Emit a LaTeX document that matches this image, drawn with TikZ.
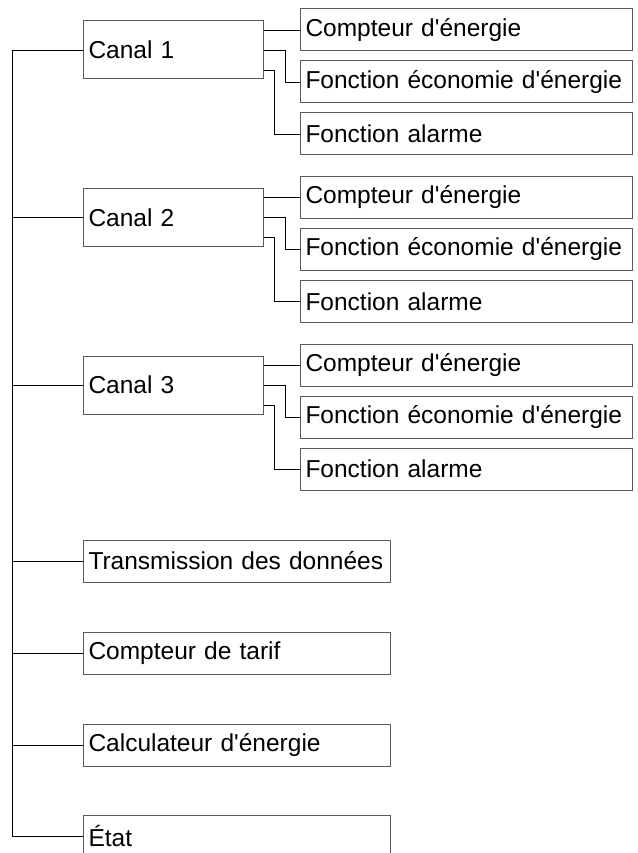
\documentclass[tikz,border=0pt]{standalone}
\usepackage{fontspec}
\setmainfont{Liberation Sans}[Ligatures=TeXOff]
\usepackage{tikz}
\usetikzlibrary{positioning}
\definecolor{boxline}{RGB}{90,90,90}

\begin{document}
\begin{tikzpicture}[x=1pt, y=-1pt]
    % Define styles
    \tikzset{
        every node/.style={font=\fontsize{24.5}{28}\selectfont},
        canal/.style={rectangle, draw=boxline, line width=1pt, anchor=west, minimum height=58pt, text width=170pt, inner xsep=5pt, align=left},
        func/.style={rectangle, draw=boxline, line width=1pt, minimum height=42pt, text width=322pt, inner xsep=5pt, align=left},
        item/.style={rectangle, draw=boxline, line width=1pt, anchor=west, minimum height=42pt, text width=297pt, inner xsep=5pt, align=left},
        link/.style={line width=0.9pt, black}
    }
    \useasboundingbox (0,0) rectangle (637,853);

    % Nodes for the channels
    \node (c1) [canal] at (83,50) {Canal 1};
    \node (c2) [canal] at (83,217.5) {Canal 2};
    \node (c3) [canal] at (83,385) {Canal 3};

    % Functions of each channel
    \node (c1a) [func, right=36pt of c1.east, anchor=west, yshift=20pt] {Compteur d'énergie};
    \node (c1b) [func, right=36pt of c1.east, anchor=west, yshift=-32pt] {Fonction économie d'énergie};
    \node (c1c) [func, right=36pt of c1.east, anchor=west, yshift=-84pt] {Fonction alarme};
    \node (c2a) [func, right=36pt of c2.east, anchor=west, yshift=20pt] {Compteur d'énergie};
    \node (c2b) [func, right=36pt of c2.east, anchor=west, yshift=-32pt] {Fonction économie d'énergie};
    \node (c2c) [func, right=36pt of c2.east, anchor=west, yshift=-84pt] {Fonction alarme};
    \node (c3a) [func, right=36pt of c3.east, anchor=west, yshift=20pt] {Compteur d'énergie};
    \node (c3b) [func, right=36pt of c3.east, anchor=west, yshift=-32pt] {Fonction économie d'énergie};
    \node (c3c) [func, right=36pt of c3.east, anchor=west, yshift=-84pt] {Fonction alarme};

    % Other entries
    \node (trans) [item] at (83,561) {Transmission des données};
    \node (tarif) [item] at (83,653) {Compteur de tarif};
    \node (calc) [item] at (83,745) {Calculateur d'énergie};
    \node (etat) [item] at (83,836) {État};

    % Main trunk on the left
    \coordinate (trunk) at (12,0);
    \draw [link] (c1.west) -| (trunk |- etat.west) -- (etat.west);
    \draw [link] (c2.west) -- (c2.west -| trunk);
    \draw [link] (c3.west) -- (c3.west -| trunk);
    \draw [link] (trans.west) -- (trans.west -| trunk);
    \draw [link] (tarif.west) -- (tarif.west -| trunk);
    \draw [link] (calc.west) -- (calc.west -| trunk);

    % Links from channels to functions
    \draw [link] ([yshift=20pt]c1.east) -- (c1a.west);
    \draw [link] (c1.east) -- ++(21,0) |- (c1b.west);
    \draw [link] ([yshift=-20pt]c1.east) -- ++(10,0) |- (c1c.west);
    \draw [link] ([yshift=20pt]c2.east) -- (c2a.west);
    \draw [link] (c2.east) -- ++(21,0) |- (c2b.west);
    \draw [link] ([yshift=-20pt]c2.east) -- ++(10,0) |- (c2c.west);
    \draw [link] ([yshift=20pt]c3.east) -- (c3a.west);
    \draw [link] (c3.east) -- ++(21,0) |- (c3b.west);
    \draw [link] ([yshift=-20pt]c3.east) -- ++(10,0) |- (c3c.west);

\end{tikzpicture}
\end{document}
